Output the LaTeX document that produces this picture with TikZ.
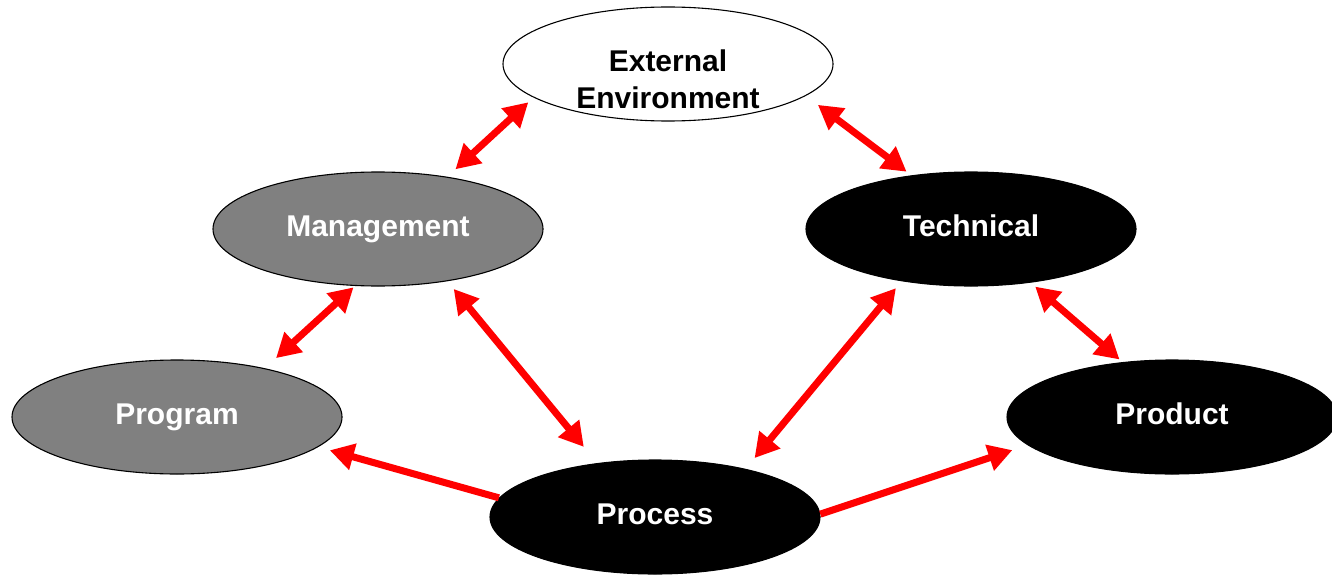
\documentclass[tikz,border=0pt]{standalone}
\usepackage{fontspec}
\setmainfont{Liberation Sans}
\usetikzlibrary{shapes.geometric,arrows.meta}
\begin{document}
\begin{tikzpicture}[x=1pt,y=-1pt,
  oval/.style={ellipse,draw=black,line width=1.1pt,minimum width=330pt,minimum height=114pt,inner sep=0pt,
    font=\fontsize{30}{37}\selectfont\bfseries,text height=22pt,text depth=8pt},
  whiteoval/.style={oval,fill=white,text=black},
  greyoval/.style={oval,fill=black!50,text=white},
  blackoval/.style={oval,fill=black,text=white},
  link/.style={draw=red,line width=7pt,{Triangle[length=24pt,width=26pt]}-{Triangle[length=24pt,width=26pt]}},
  onelink/.style={draw=red,line width=7pt,-{Triangle[length=24pt,width=26pt]}},
  lbl/.style={font=\fontsize{30}{37}\selectfont\bfseries,align=center,inner sep=0pt}
]
\useasboundingbox (0,0) rectangle (1332,575);
\fill[white] (0,0) rectangle (1332,575);

\node[whiteoval] (ext) at (668,64) {};
\node[lbl] (extlbl) at ([yshift=-15pt]ext.center) {External\\Environment};
\node[greyoval] (mgmt) at (378,229) {Management};
\node[blackoval] (tech) at (971,229) {Technical};
\node[greyoval] (prog) at (177,417) {Program};
\node[blackoval] (proc) at (655,517) {Process};
\node[blackoval] (prod) at (1172,417) {Product};

\draw[link,shorten <=7pt,shorten >=11pt] (ext.194) -- (mgmt.37);
\draw[link,shorten <=15pt,shorten >=6pt] (ext.347) -- (tech.138);
\draw[link,shorten <=2pt,shorten >=15pt] (mgmt.248) -- (prog.29);
\draw[link,shorten <=10pt,shorten >=21pt] (mgmt.323) -- (proc.137);
\draw[link,shorten <=9pt,shorten >=14pt] (tech.217) -- (proc.28);
\draw[link,shorten <=6pt,shorten >=4pt] (tech.318) -- (prod.132);
\draw[onelink,shorten >=12pt] (proc.173) -- (prog.348);
\draw[onelink,shorten >=16pt] (proc.1) -- (prod.191);
\end{tikzpicture}
\end{document}
